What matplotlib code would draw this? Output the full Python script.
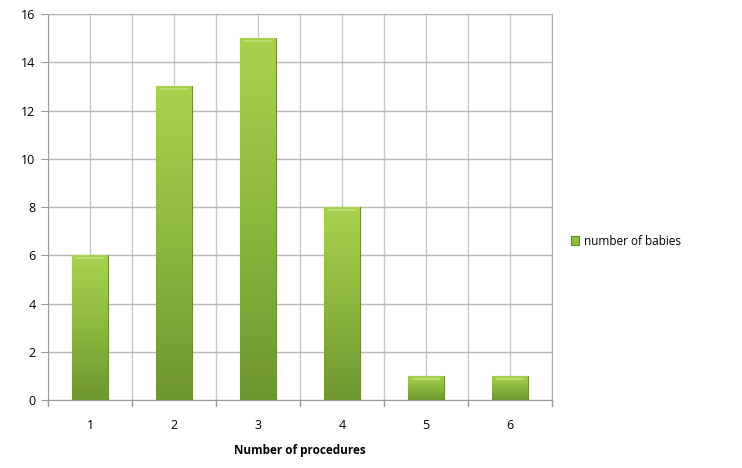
import numpy as np
import matplotlib
matplotlib.use("Agg")
import matplotlib.pyplot as plt
from matplotlib.colors import LinearSegmentedColormap

procedures = ["1", "2", "3", "4", "5", "6"]
babies = [6, 13, 15, 8, 1, 1]

plt.rcParams['font.family'] = ['Open Sans', 'DejaVu Sans']

fig = plt.figure(figsize=(7.42, 4.68), dpi=100)
ax = fig.add_axes([0.0647, 0.1453, 0.6793, 0.8247])

x = np.arange(len(procedures))
bars = ax.bar(x, babies, width=0.42, color="#8fbc3c", edgecolor="#6a8a2a",
              linewidth=0.8, zorder=3, label="number of babies")

# vertical gradient on each bar
grad = LinearSegmentedColormap.from_list("g", ["#6e9630", "#8cb83e", "#a8d24e"])
img = np.linspace(0, 1, 256).reshape(-1, 1)
for b in bars:
    bx, by = b.get_x(), b.get_y()
    w, h = b.get_width(), b.get_height()
    im = ax.imshow(img, cmap=grad, origin="lower", aspect="auto",
                   extent=[bx, bx + w, by, by + h], zorder=3.5)
    im.set_clip_path(b)
    ax.plot([bx + w * 0.1, bx + w * 0.9], [by + h - 0.12, by + h - 0.12],
            color="#c4e27a", lw=1.2, zorder=4, solid_capstyle="butt")

# category boundary ticks below the axis
edges = np.arange(-0.5, len(procedures), 1)
for t in edges:
    ax.plot([t, t], [0, -0.25], color="#9a9a9a", lw=1, clip_on=False, zorder=2)

ax.set_yticks(range(0, 17, 2))
ax.set_xticks(x)
ax.set_xticklabels(procedures)
ax.set_xticks(edges, minor=True)

ax.grid(True, axis="y", color="#b8b8b8", lw=1, zorder=0)
ax.grid(True, axis="x", which="both", color="#c8c8c8", lw=1, zorder=0)
ax.tick_params(axis="x", which="major", length=0, labelsize=9, pad=14)
ax.tick_params(axis="x", which="minor", length=0)
ax.tick_params(axis="y", length=5, color="#9a9a9a", labelsize=9, pad=4)

for s in ax.spines.values():
    s.set_color("#b0b0b0")
ax.spines["left"].set_color("#9a9a9a")
ax.spines["bottom"].set_color("#9a9a9a")

ax.set_xlabel("Number of procedures", fontsize=8.5, fontweight="bold", labelpad=8)

fig.legend(loc="center left", bbox_to_anchor=(0.755, 0.485), frameon=False,
           fontsize=8.5, handlelength=0.7, handleheight=0.7, handletextpad=0.4)

ax.set_xlim(-0.5, len(procedures) - 0.5)
ax.set_ylim(0, 16)

fig.savefig("out.png", dpi=100)
